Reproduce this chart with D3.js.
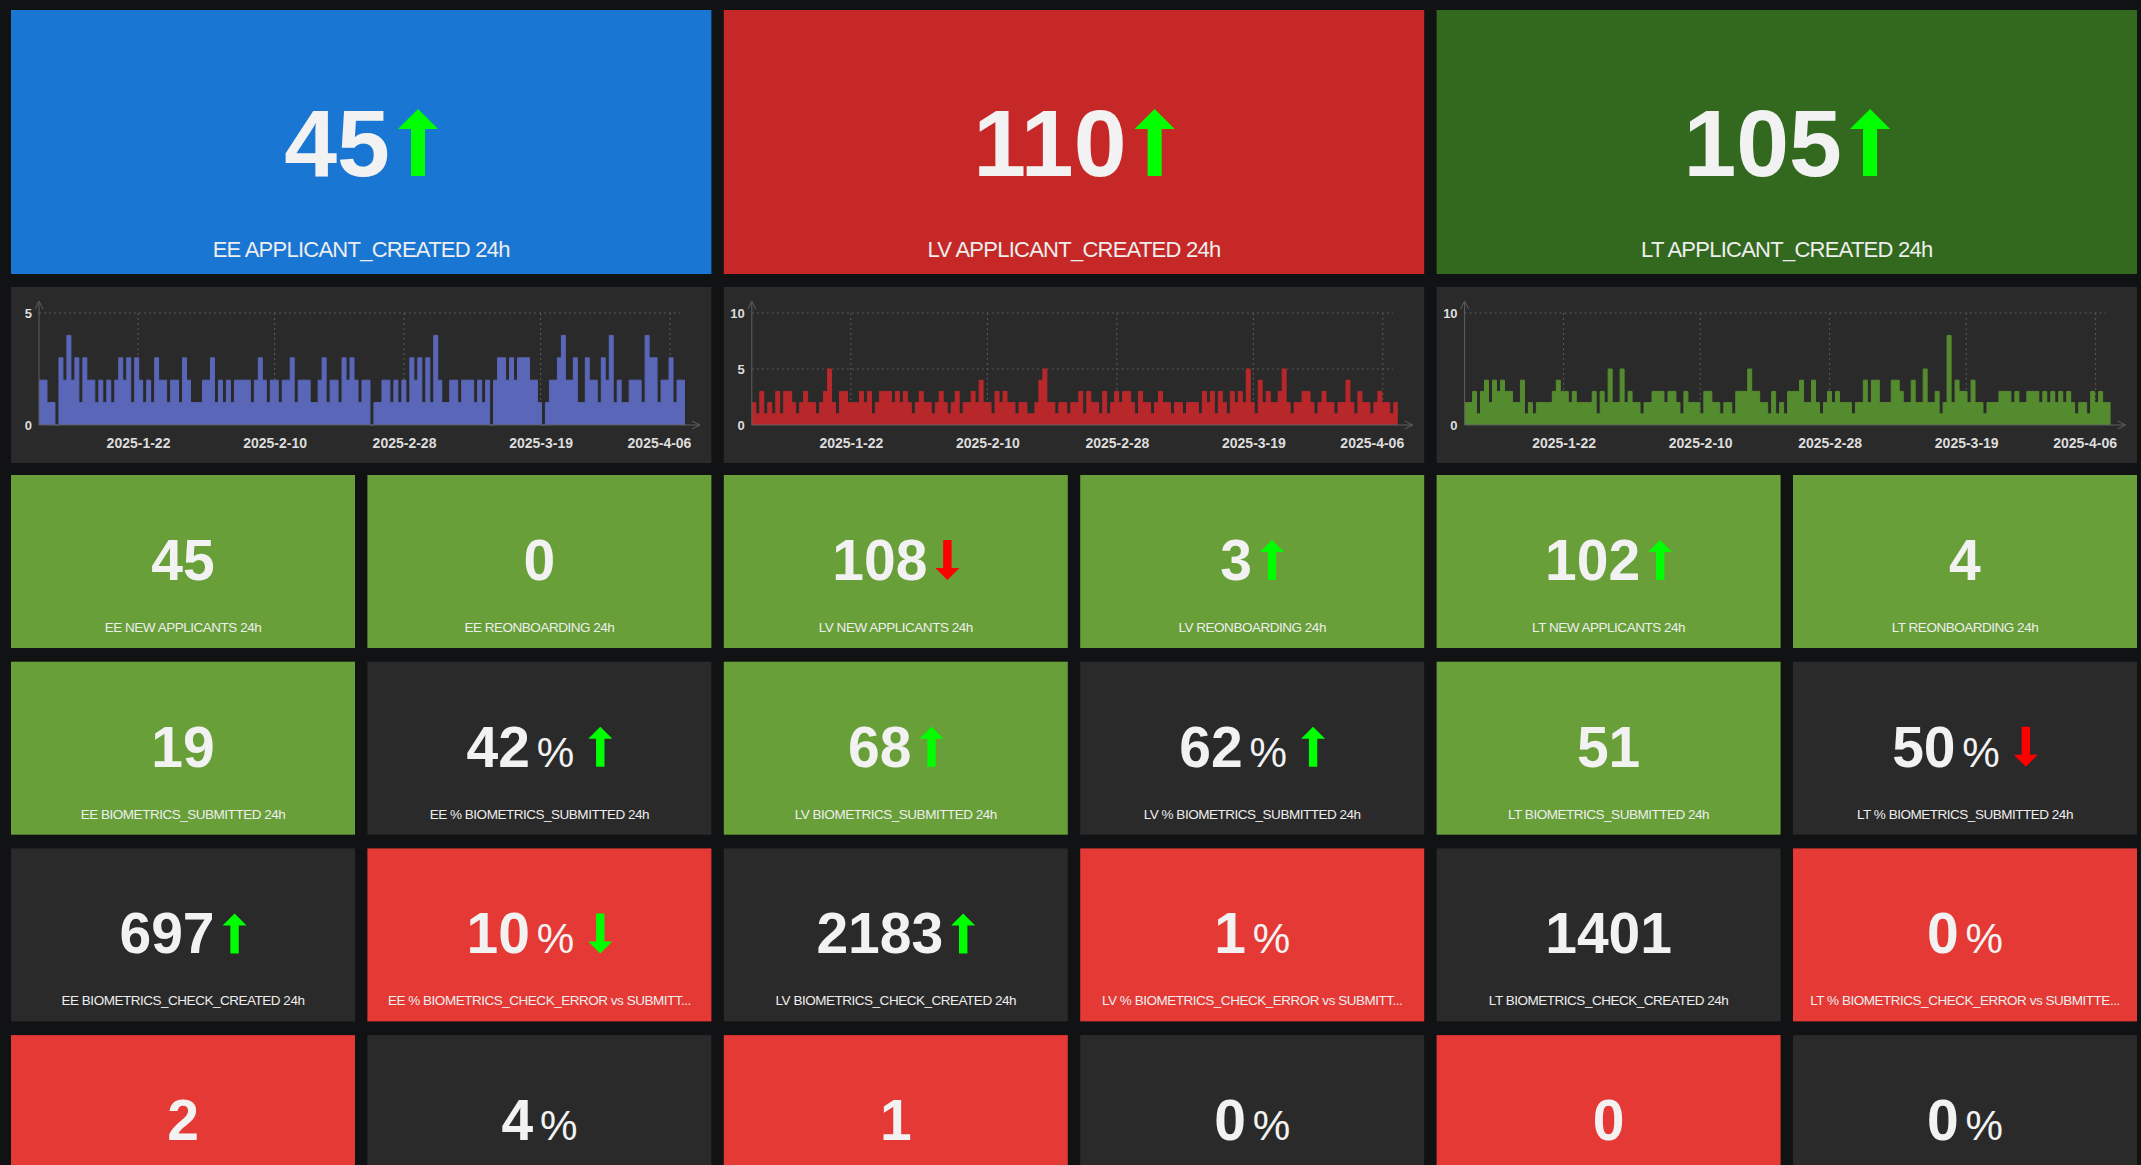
<!DOCTYPE html>
<html>
<head>
<meta charset="utf-8">
<title>Applicants dashboard</title>
<script src="https://cdn.jsdelivr.net/npm/d3@7"></script>
<style>
  html, body { margin: 0; padding: 0; background: #111214; overflow: hidden; }
  svg { display: block; }
  .val { font-family: "Liberation Sans", Arial, sans-serif; font-weight: bold; fill: #f2f2f2; }
  .lbl { font-family: "Liberation Sans", Arial, sans-serif; fill: #eeeeee; }
  .ax text { font-family: "Liberation Sans", Arial, sans-serif; font-weight: bold; fill: #dddddd; }
</style>
</head>
<body>
<svg id="dash" width="2141" height="1165"></svg>
<script>

// big stats on top
var bigLabels = ["EE APPLICANT_CREATED 24h", "LV APPLICANT_CREATED 24h", "LT APPLICANT_CREATED 24h"];
var bigValues = [45, 110, 105];
var bigTrend = ["up", "up", "up"];
var bigColors = ["#1976d2", "#c62828", "#33691e"];

// small stats, 4 rows of 6
var statLabels = [
  "EE NEW APPLICANTS 24h", "EE REONBOARDING 24h", "LV NEW APPLICANTS 24h", "LV REONBOARDING 24h", "LT NEW APPLICANTS 24h", "LT REONBOARDING 24h",
  "EE BIOMETRICS_SUBMITTED 24h", "EE % BIOMETRICS_SUBMITTED 24h", "LV BIOMETRICS_SUBMITTED 24h", "LV % BIOMETRICS_SUBMITTED 24h", "LT BIOMETRICS_SUBMITTED 24h", "LT % BIOMETRICS_SUBMITTED 24h",
  "EE BIOMETRICS_CHECK_CREATED 24h", "EE % BIOMETRICS_CHECK_ERROR vs SUBMITT...", "LV BIOMETRICS_CHECK_CREATED 24h", "LV % BIOMETRICS_CHECK_ERROR vs SUBMITT...", "LT BIOMETRICS_CHECK_CREATED 24h", "LT % BIOMETRICS_CHECK_ERROR vs SUBMITTE...",
  "", "", "", "", "", ""
];
var statValues = [45, 0, 108, 3, 102, 4,
                  19, 42, 68, 62, 51, 50,
                  697, 10, 2183, 1, 1401, 0,
                  2, 4, 1, 0, 0, 0];
var statUnits = ["", "", "", "", "", "",
                 "", "%", "", "%", "", "%",
                 "", "%", "", "%", "", "%",
                 "", "%", "", "%", "", "%"];
var statTrend = ["", "", "down", "up", "up", "",
                 "", "up", "up", "up", "", "down",
                 "up", "down", "up", "", "", "",
                 "", "", "", "", "", ""];
var statTrendGood = [0, 0, 0, 1, 1, 0,
                     0, 1, 1, 1, 0, 0,
                     1, 1, 1, 0, 0, 0,
                     0, 0, 0, 0, 0, 0];
var statColors = ["g", "g", "g", "g", "g", "g",
                  "g", "d", "g", "d", "g", "d",
                  "d", "r", "d", "r", "d", "r",
                  "r", "d", "r", "d", "r", "d"];
var tileFill = {g: "#689f38", d: "#2a2a2a", r: "#e53935"};

// sparkline series (counts per interval)
var eeSeries = [2,2,1,1,0,3,2,4,2,3, 1,3,2,2,1,2,1,2,1,2, 3,2,3,1,3,2,1,2,1,3, 2,2,1,2,2,1,3,2,1,1,
                1,2,2,3,1,2,1,2,1,2, 2,2,2,1,2,3,2,1,2,2, 1,2,2,3,1,2,2,2,1,1, 2,3,1,2,2,1,3,2,3,2,
                1,2, 2,0,1,1,2,2,1,2,1,2, 1,3,2,3,1,3,1,4,2,1, 1,2,2,1,2,2,2,1,2,1, 2,0,2,3,3,2,3,2,3,3,
                3,2,2,1,0,1,2,2,3,4, 2,2,3,1,1,3,2,2,1,3, 2,4,1,2,1,1,2,2,2,1, 4,3,3,1,2,2,3,1,2,2];
var lvSeries = [2,1,3,1,2,1,3,1,3,3, 2,1,2,3,2,2,1,2,3,5, 2,1,3,3,2,2,2,3,2,3, 1,2,3,3,3,2,3,2,3,2,
                1,2,3,2,2,1,2,3,2,1, 2,3,1,2,2,3,2,4,2,2, 1,3,2,3,2,2,1,2,2,1, 1,2,4,5,2,2,1,2,2,1,
                2,2, 3,1,3,2,2,1,3,1,2,3, 2,3,3,2,1,3,2,2,1,2, 3,2,2,1,2,2,1,2,2,2, 1,3,2,3,1,3,2,1,3,2,
                3,2,5,2,1,4,2,3,2,2, 3,5,2,1,2,2,3,3,2,1, 2,3,2,2,1,2,2,4,2,1, 3,2,2,1,2,3,2,2,1,2];
var ltSeries = [2,2,3,1,3,4,2,4,3,4, 3,3,2,2,4,1,2,1,2,2, 2,2,3,4,3,3,2,3,2,2, 2,2,3,1,3,2,5,2,2,5,
                2,3,2,2,1,2,2,3,3,3, 2,3,3,2,1,3,2,2,2,1, 3,3,2,2,1,2,2,1,3,3, 3,5,3,3,2,2,1,3,1,2,
                1,3,3,3,4,2,2,4,2,1, 2,3,2,3,2,2,2,1,2,2, 4,2,4,4,2,2,2,4,4,3, 2,2,4,2,2,5,2,2,3,1,
                2,8,2,4,3,3,2,4,2,2, 1,2,2,2,3,3,3,2,3,2, 2,3,3,3,2,3,2,3,2,3, 2,3,2,1,2,2,1,3,2,3, 2,2];
var sparkSeries = [eeSeries, lvSeries, ltSeries];
var sparkColors = ["#5a66b8", "#b8282a", "#558b2f"];
var sparkMax = [5, 10, 10];
var sparkYTicks = [[0, 5], [0, 5, 10], [0, 10]];
var dateTicks = ["2025-1-22", "2025-2-10", "2025-2-28", "2025-3-19", "2025-4-06"];
var rangeStart = "2025-01-08T05:30", rangeEnd = "2025-04-08T02:00";

var svg = d3.select("#dash");
svg.append("rect").attr("width", 2141).attr("height", 1165).attr("fill", "#111214");

// grid
var padL = 11, gap = 12.4, colW = 344;
function colX(c) { return padL + c * (colW + gap); }
var bigY = 10, bigH = 264;
var sparkY = 287, sparkH = 176;
var rowY0 = 475, rowH = 173, rowStep = 186.7;

var GREEN = "#00ff00", RED = "#ff0000";

function arrowPath(cx, top, h, dir) {
  var hw = h * 0.3, hh = h * 0.3, sw = h * 0.105;
  var p;
  if (dir == "up") {
    p = [[cx, top], [cx + hw, top + hh], [cx + sw, top + hh], [cx + sw, top + h],
         [cx - sw, top + h], [cx - sw, top + hh], [cx - hw, top + hh]];
  } else {
    var b = top + h;
    p = [[cx, b], [cx + hw, b - hh], [cx + sw, b - hh], [cx + sw, top],
         [cx - sw, top], [cx - sw, b - hh], [cx - hw, b - hh]];
  }
  return "M" + p.map(function(q) { return q[0] + "," + q[1]; }).join("L") + "Z";
}

// value + unit + optional arrow, centered on cx
function drawValue(g, cx, base, size, value, unit, trend, good, arrowH, arrowGap) {
  var vg = g.append("g");
  var t = vg.append("text").attr("class", "val").attr("y", base).style("font-size", size + "px");
  t.append("tspan").text(value);
  if (unit) {
    t.append("tspan").attr("dx", size * 0.12).style("font-weight", "normal")
      .style("font-size", (size * 0.74) + "px").text(unit);
  }
  var bb = t.node().getBBox();
  var w = bb.x + bb.width;
  var total = w;
  if (trend) {
    var gp = unit ? arrowGap + 6 : arrowGap;
    var ax = w + gp + arrowH * 0.3;
    vg.append("path")
      .attr("d", arrowPath(ax, base - arrowH, arrowH, trend))
      .attr("fill", good ? GREEN : RED);
    total = w + gp + arrowH * 0.6;
  }
  vg.attr("transform", "translate(" + (cx - total / 2) + ",0)");
}

// top tiles
bigValues.forEach(function(v, i) {
  var x = colX(i * 2), w = colW * 2 + gap;
  var g = svg.append("g").attr("transform", "translate(" + x + "," + bigY + ")");
  g.append("rect").attr("width", w).attr("height", bigH).attr("fill", bigColors[i]);
  drawValue(g, w / 2, 166, 95, v, "", bigTrend[i], true, 67, 8);
  g.append("text").attr("class", "lbl").attr("x", w / 2).attr("y", 247)
    .attr("text-anchor", "middle").style("font-size", "22px").style("letter-spacing", "-0.75px")
    .text(bigLabels[i]);
});

// sparklines
sparkSeries.forEach(function(series, i) {
  var px = colX(i * 2), pw = colW * 2 + gap;
  var g = svg.append("g").attr("transform", "translate(" + px + "," + sparkY + ")");
  g.append("rect").attr("width", pw).attr("height", sparkH).attr("fill", "#2a2a2a");

  var t0 = new Date(rangeStart), t1 = new Date(rangeEnd);
  var x = d3.scaleTime().domain([t0, t1]).range([28, 674]);
  var y = d3.scaleLinear().domain([0, sparkMax[i]]).range([138, 26]);
  var parse = d3.timeParse("%Y-%m-%d");
  var ticks = dateTicks.map(function(s) { return parse(s); });

  // grid
  g.append("g").selectAll("line").data(sparkYTicks[i].filter(function(d) { return d > 0; }))
    .enter().append("line")
    .attr("x1", x.range()[0]).attr("x2", x(t1) - 5)
    .attr("y1", function(d) { return y(d); }).attr("y2", function(d) { return y(d); })
    .attr("stroke", "#5a5a5a").attr("stroke-dasharray", "2,3");
  g.append("g").selectAll("line").data(ticks)
    .enter().append("line")
    .attr("x1", function(d) { return x(d); }).attr("x2", function(d) { return x(d); })
    .attr("y1", y(sparkMax[i])).attr("y2", y(0))
    .attr("stroke", "#5a5a5a").attr("stroke-dasharray", "2,3");

  var step = (t1 - t0) / series.length;
  var pts = series.map(function(v, k) { return {t: new Date(+t0 + k * step), v: v}; });
  pts.push({t: t1, v: series[series.length - 1]});

  var area = d3.area().curve(d3.curveStepAfter)
    .x(function(d) { return x(d.t); }).y0(y(0)).y1(function(d) { return y(d.v); });
  var line = d3.line().curve(d3.curveStepAfter)
    .x(function(d) { return x(d.t); }).y(function(d) { return y(d.v); });
  g.append("path").datum(pts).attr("d", area).attr("fill", sparkColors[i]);
  g.append("path").datum(pts).attr("d", line).attr("fill", "none").attr("stroke", sparkColors[i]).attr("stroke-width", 1);

  // axis lines with open arrows
  var ax0 = x.range()[0], ay0 = y(0);
  g.append("line").attr("x1", ax0).attr("x2", ax0).attr("y1", ay0).attr("y2", 16).attr("stroke", "#5e5e5e");
  g.append("path").attr("d", "M" + (ax0 - 4) + ",22L" + ax0 + ",14L" + (ax0 + 4) + ",22")
    .attr("fill", "none").attr("stroke", "#5e5e5e");
  g.append("line").attr("x1", ax0).attr("x2", 688).attr("y1", ay0).attr("y2", ay0).attr("stroke", "#5e5e5e");
  g.append("path").attr("d", "M681," + (ay0 - 4) + "L689," + ay0 + "L681," + (ay0 + 4))
    .attr("fill", "none").attr("stroke", "#5e5e5e");

  var xa = g.append("g").attr("class", "ax").attr("transform", "translate(0," + ay0 + ")")
    .call(d3.axisBottom(x).tickValues(ticks).tickSize(0).tickPadding(13)
      .tickFormat(function(d, k) { return dateTicks[k]; }));
  xa.select(".domain").remove();
  xa.selectAll("text").style("font-size", "14px");
  // keep the last label inside the plot, like the original renderer
  xa.selectAll(".tick").each(function(d) {
    var tx = d3.select(this).select("text");
    var bw = tx.node().getBBox().width;
    var over = x(d) + bw / 2 - 680;
    if (over > 0) tx.attr("dx", -over);
  });

  var ya = g.append("g").attr("class", "ax").attr("transform", "translate(" + ax0 + ",0)")
    .call(d3.axisLeft(y).tickValues(sparkYTicks[i]).tickSize(0).tickPadding(7).tickFormat(d3.format("d")));
  ya.select(".domain").remove();
  ya.selectAll("text").style("font-size", "13px");
});

// small tiles
statValues.forEach(function(v, k) {
  var r = Math.floor(k / 6), c = k % 6;
  var g = svg.append("g").attr("transform", "translate(" + colX(c) + "," + (rowY0 + r * rowStep) + ")");
  g.append("rect").attr("width", colW).attr("height", rowH).attr("fill", tileFill[statColors[k]]);
  drawValue(g, colW / 2, 105, 57, v, statUnits[k], statTrend[k], statTrendGood[k], 40, 8);
  if (statLabels[k]) {
    g.append("text").attr("class", "lbl").attr("x", colW / 2).attr("y", 157)
      .attr("text-anchor", "middle").style("font-size", "13.5px").style("letter-spacing", "-0.48px")
      .text(statLabels[k]);
  }
});

</script>
</body>
</html>
